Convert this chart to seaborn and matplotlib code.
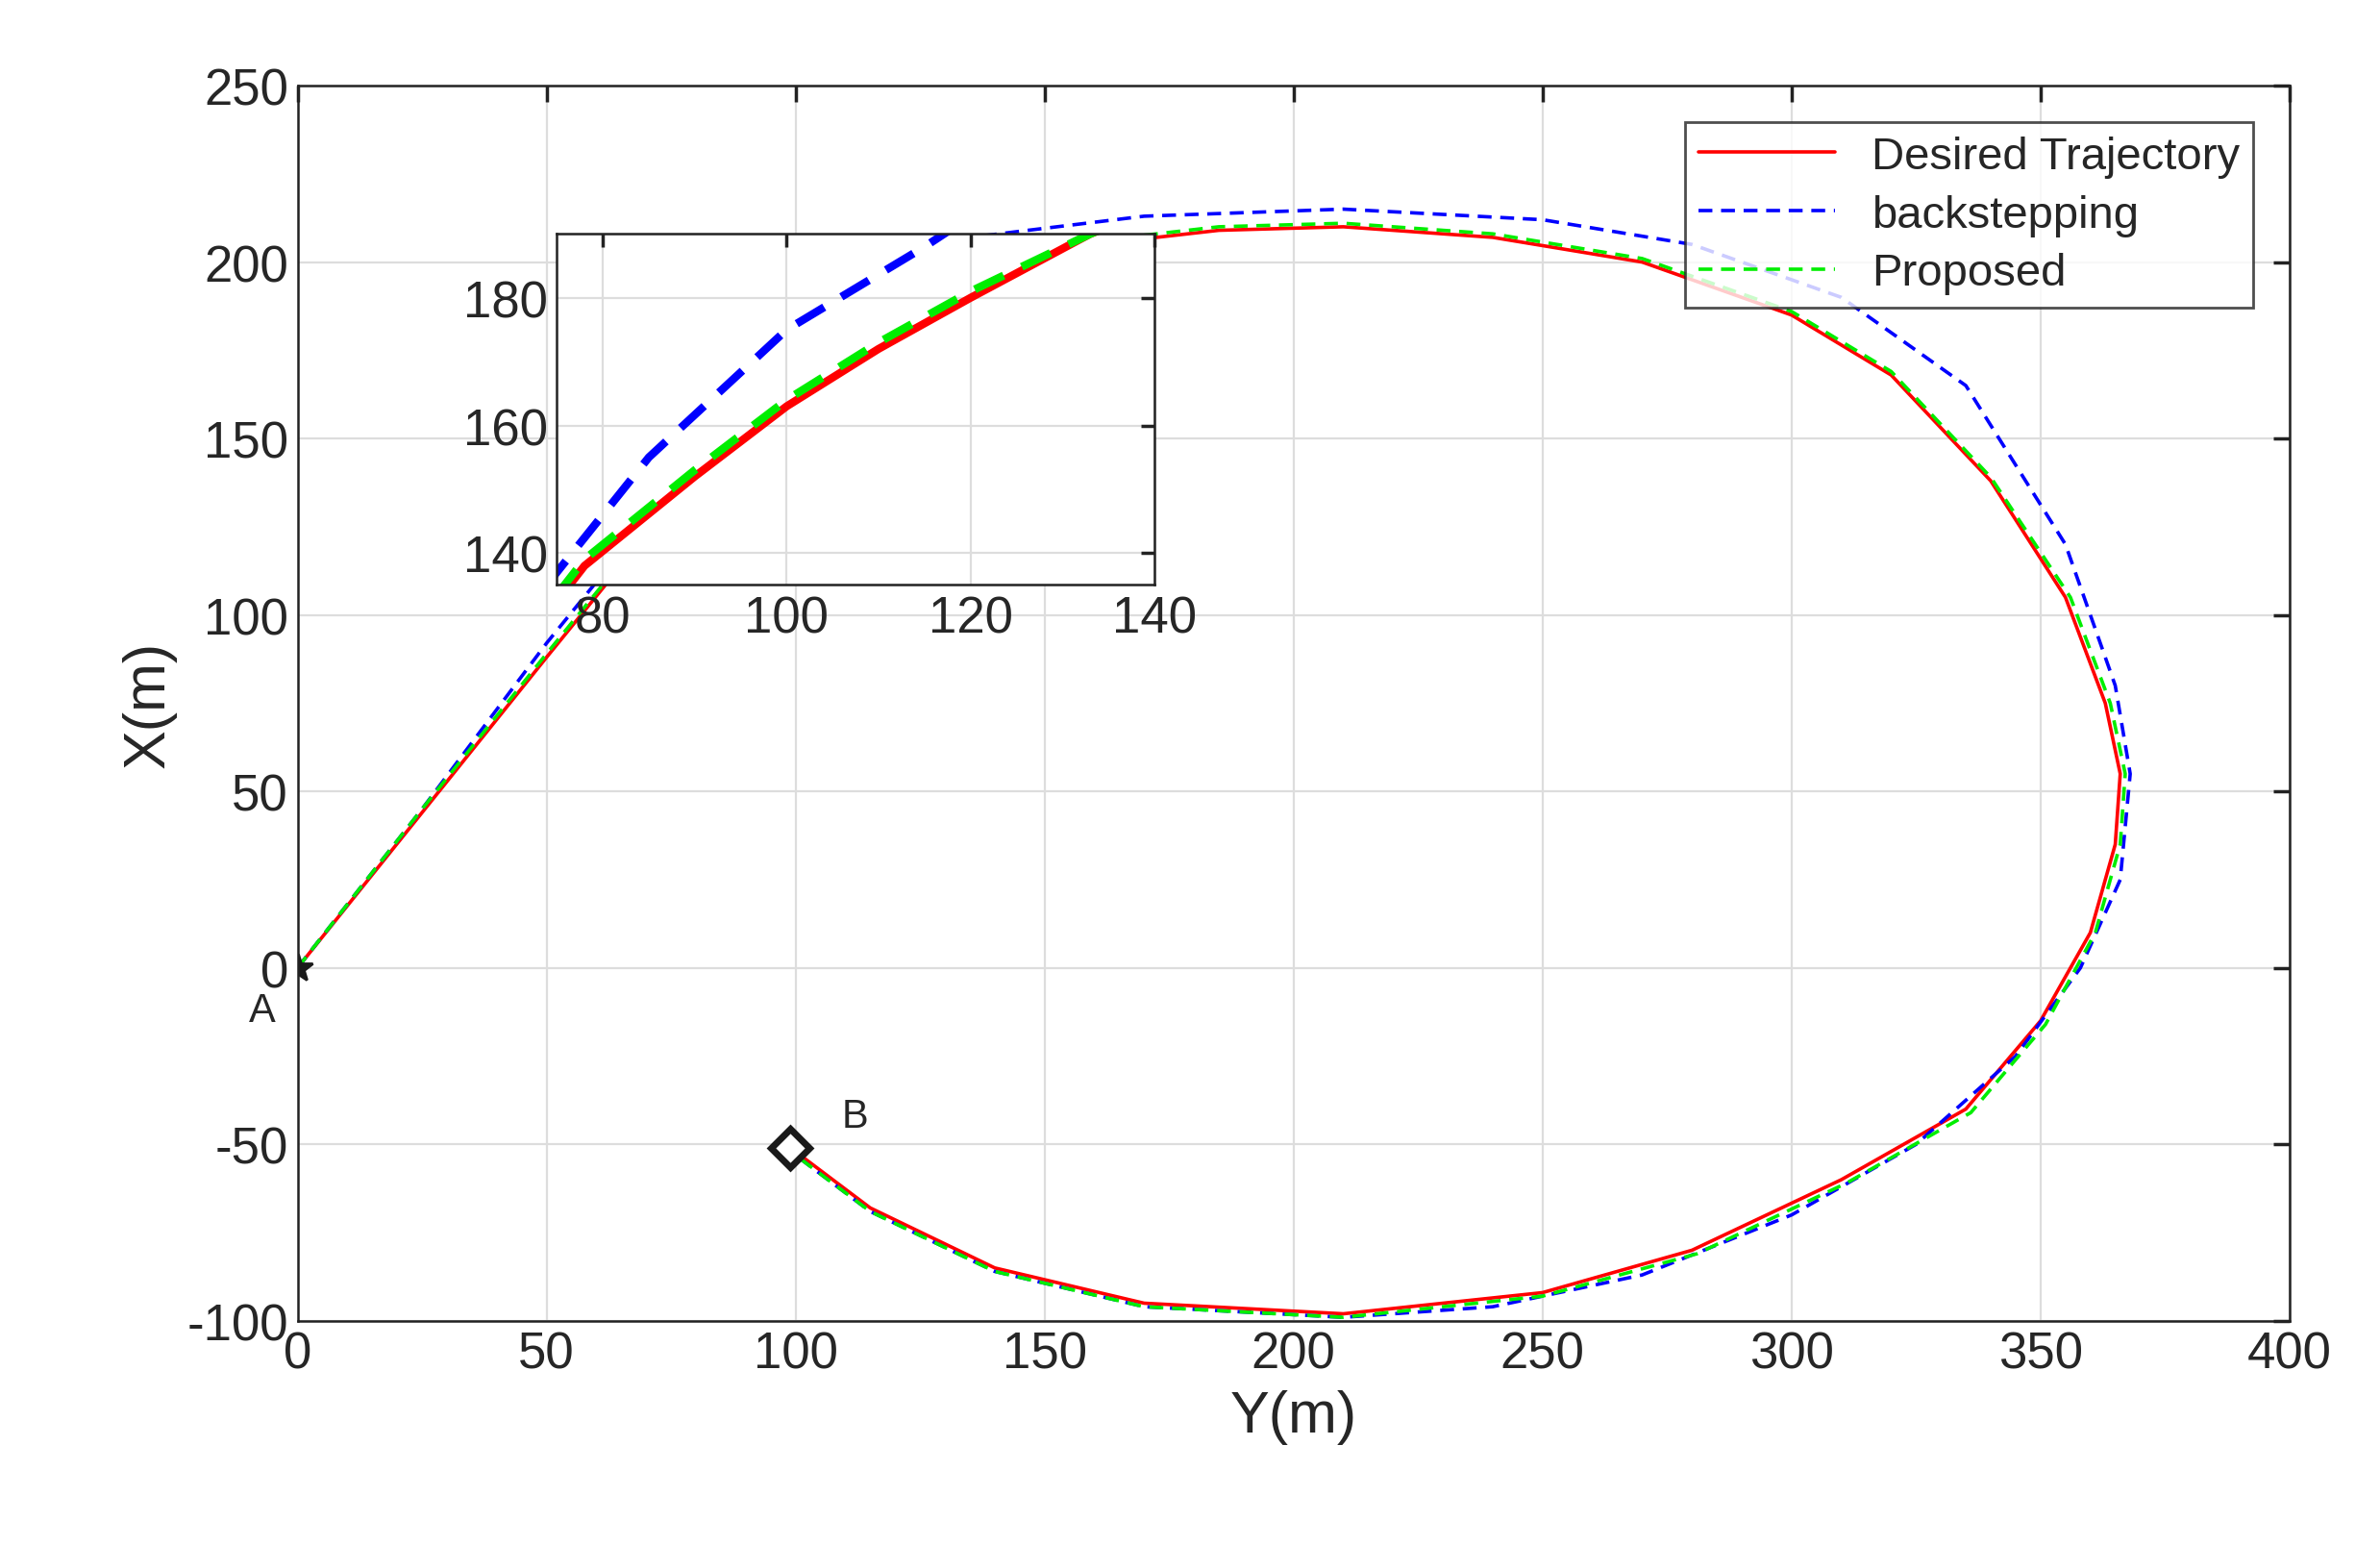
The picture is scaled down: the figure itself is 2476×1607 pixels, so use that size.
import matplotlib
matplotlib.use("Agg")
import matplotlib.pyplot as plt
import seaborn as sns
import pandas as pd

sns.set_theme(style="whitegrid")
plt.rcParams['font.family'] = ['Liberation Sans', 'DejaVu Sans']
plt.rcParams['axes.unicode_minus'] = False

des_y = [0, 25, 50, 65, 78, 90, 100, 110, 120, 133, 160, 185, 210, 240, 270, 300, 320, 340, 355, 363, 366, 365, 360, 350, 335, 310, 280, 250, 210, 170, 140, 115, 99]
des_x = [0, 44, 88, 114, 138, 152, 163, 172, 180, 190, 205, 209, 210, 207, 200, 185, 168, 138, 105, 75, 55, 35, 10, -15, -40, -60, -80, -92, -98, -95, -85, -68, -51]

bs_y = [0, 10, 25, 50, 65, 75, 85, 100, 115, 135, 170, 210, 250, 280, 310, 335, 355, 365, 368, 366, 358, 345, 325, 300, 270, 240, 210, 170, 140, 115, 99]
bs_x = [0, 18, 45, 92, 118, 137, 155, 175, 188, 207, 213, 215, 212, 205, 190, 165, 120, 80, 55, 25, 0, -25, -50, -70, -87, -96, -99, -96, -86, -69, -52]

pr_y = [0, 25, 50, 65, 78, 90, 100, 110, 120, 133, 160, 185, 210, 240, 270, 300, 320, 340, 356, 364, 367, 366, 361, 351, 336, 311, 281, 250, 210, 170, 140, 115, 99]
pr_x = [0, 45, 89, 115, 139, 153, 164, 173, 181, 190, 206, 210, 211, 208, 201, 186, 169, 139, 105, 75, 55, 35, 10, -16, -41, -61, -81, -93, -99, -96, -86, -69, -52]

fig = plt.figure(figsize=(12.38, 8.04), dpi=200)
ax = fig.add_axes([0.125, 0.145, 0.837, 0.799])

def draw(a, lw, lab):
    for yy, xx, c, ls, name in [(des_y, des_x, '#ff0000', '-', 'Desired Trajectory'),
                                (bs_y, bs_x, '#0000ff', (0, (4, 2.5)), 'backstepping'),
                                (pr_y, pr_x, '#00ee00', (0, (4, 2.5)), 'Proposed')]:
        df = pd.DataFrame({'y': yy, 'x': xx})
        sns.lineplot(data=df, x='y', y='x', sort=False, estimator=None, errorbar=None,
                     ax=a, color=c, lw=lw, linestyle=ls, label=name if lab else None)

draw(ax, 1.3, True)
ax.plot([0], [0], marker='*', color='k', ms=11, mew=1)
ax.plot([99], [-51], marker='D', color='k', mfc='white', ms=10, mew=2.5)
ax.text(-7, -12, 'A', fontsize=15, ha='center', va='center')
ax.text(112, -42, 'B', fontsize=15, ha='center', va='center')
ax.set_xlim(0, 400)
ax.set_ylim(-100, 250)
ax.set_xticks(range(0, 401, 50))
ax.set_yticks(range(-100, 251, 50))
ax.set_xlabel('Y(m)', fontsize=22)
ax.set_ylabel('X(m)', fontsize=22)
ax.tick_params(labelsize=19, direction='in', length=6, top=True, right=True, color='#222222')
ax.grid(True, color='#dddddd', lw=0.8)
for s in ax.spines.values():
    s.set_color('#222222'); s.set_linewidth(0.9)
leg = ax.legend(loc='upper right', fontsize=17, frameon=True, fancybox=False, borderaxespad=0.8,
                handlelength=3, borderpad=0.3, labelspacing=0.35)
leg.get_frame().set_edgecolor('#222222')
leg.get_frame().set_linewidth(1)

ins = fig.add_axes([0.234, 0.621, 0.251, 0.227])
draw(ins, 3, False)
ins.set_xlim(75, 140)
ins.set_ylim(135, 190)
ins.set_xticks([80, 100, 120, 140])
ins.set_yticks([140, 160, 180])
ins.set_xlabel(''); ins.set_ylabel('')
ins.tick_params(labelsize=19, direction='in', length=5, top=True, right=True, color='#222222')
ins.grid(True, color='#dddddd', lw=0.8)
ins.set_facecolor('white')
for s in ins.spines.values():
    s.set_color('#222222'); s.set_linewidth(0.9)

fig.savefig('out.png', dpi=200, facecolor='white')
